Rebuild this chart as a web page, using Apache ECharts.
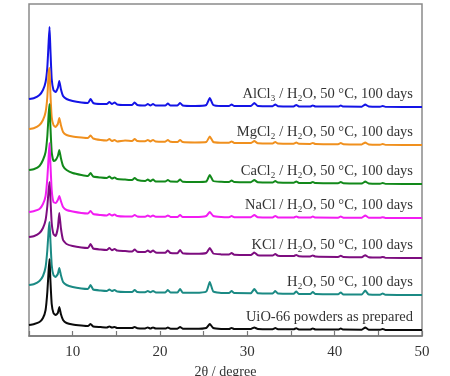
<!DOCTYPE html>
<html>
<head>
<meta charset="utf-8">
<script src="https://cdn.jsdelivr.net/npm/echarts@6/dist/echarts.min.js"></script>
<style>html,body{margin:0;padding:0;background:#fff}#c{width:450px;height:376px}</style>
</head>
<body>
<div id="c"></div>
<script>
// 2θ positions shared by all patterns
var twoTheta = [5.0,5.6,6.2,6.6,6.9,7.1,7.25,7.35,7.45,7.6,7.8,8.05,8.3,8.47,8.65,8.9,9.3,10.0,11.0,11.75,12.05,12.35,13.2,13.9,14.2,14.5,14.8,15.1,16.0,16.8,17.1,17.4,18.3,18.6,18.9,19.2,19.5,20.6,20.9,21.2,22.0,22.3,22.6,24.0,25.3,25.7,26.1,27.0,27.9,28.2,28.5,30.4,30.8,31.2,32.9,33.2,33.5,35.3,35.6,35.9,37.2,37.5,37.8,40.4,40.7,41.0,43.1,43.5,43.9,45.2,45.5,45.8,50.0];

var labels = ['AlCl\u2083 / H\u2082O, 50 \u00B0C, 100 days','MgCl\u2082 / H\u2082O, 50 \u00B0C, 100 days','CaCl\u2082 / H\u2082O, 50 \u00B0C, 100 days','NaCl / H\u2082O, 50 \u00B0C, 100 days','KCl / H\u2082O, 50 \u00B0C, 100 days','H\u2082O, 50 \u00B0C, 100 days','UiO-66 powders as prepared'];
var colors = ['#1414e6','#f0901e','#12891a','#f21cf2','#7d0d7f','#1b8a84','#0a0a0a'];
// vertical stacking offsets (arbitrary intensity units)
var offsets = [229,191,152,118,78,41,6];

var alcl3 = [8,9,12,17,25,40,65,80,58,28,17,15,19,26,18,11,8,6,4.5,4,8,4,3,3,5,3,4.5,2.5,2,2,4.5,2,1.5,3,1.5,3,1.5,1.5,3.5,1.5,1.5,4,1.5,1,2,9,2,1,1,2.5,1,1,4,1,0.8,2.5,0.8,0.6,2,0.6,0.5,1.5,0.5,0.4,1.5,0.4,0.3,2.5,0.5,0.3,1,0.2,0];
var mgcl2 = [16,17,20,25,33,48,72,77,52,28,20,18,21,27,20,13,10,8.5,7.5,7,9.5,6.5,5,4.5,6,4,5,3.5,4.5,4,6,4,3.8,5,3.6,5,3.5,3.3,5,3.2,3,5,3,2.6,3,8.5,3,2.3,2.2,3.5,2.1,2,4,1.8,1.6,3,1.5,1.3,2.5,1.2,1.1,2,1,0.8,2,0.8,0.6,2.5,0.5,0.3,1,0.2,0];
var cacl2 = [14,15,18,24,32,48,70,80,58,32,23,24,28,34,26,18,14,11,9,8,11,7.5,6.5,6,7.5,5.5,6.5,5,4.5,4,6,4,3,4.5,2.8,4.5,2.6,2.5,4,2.4,2.3,4.5,2.2,2,2.5,9,3,2.2,2,3.5,2,1.8,4,1.7,1.5,3,1.4,1.2,2.5,1.1,1,2,0.9,0.7,2,0.7,0.5,2.5,0.5,0.3,1,0.2,0];
var nacl = [6,7,9,14,22,40,62,75,55,28,16,15,18,22,17,11,8,6.5,5,4.5,7,4,3,2.5,4,2.5,3.5,2,1.5,1.5,3,1.5,1.2,2.5,1.2,2.5,1.2,1.2,2.5,1.1,1,3,1,1,2,6,2,1,0.8,2,0.8,0.8,3,0.8,0.6,2,0.6,0.5,1.5,0.5,0.4,1.5,0.4,0.3,1.5,0.3,0.2,2.5,0.3,0.2,0.8,0.1,0];
var kcl = [21,22,25,30,38,52,68,76,60,35,24,22,30,45,30,18,14,12,10.5,10,14,9.5,8.5,8,10,7.7,9,7.4,7,6.5,8.5,6.3,6,7.5,5.8,7.5,5.6,5.2,7.5,5,4.8,8,4.7,4.2,5,10,4.5,3.6,3.4,5,3.2,3,5.5,2.8,2.5,4,2.3,2,3,1.8,1.6,2.6,1.4,1.1,2.3,1,0.8,2.8,0.7,0.4,1.1,0.3,0];
var water = [10,11,14,19,28,45,65,73,55,30,20,18,21,27,20,13,10,8,6.5,6,10,5.5,4.5,4,5.5,4,5,3.5,3,3,5,3,2.8,4,2.7,4,2.6,2.5,5,2.4,2.4,6,2.3,2.2,3.5,13,3.5,2,2,4,1.9,1.8,6,1.7,1.5,4,1.4,1.2,3.5,1.1,1,3,0.9,0.7,2.5,0.6,0.5,4.5,0.5,0.3,1.5,0.2,0];
var uio66 = [5,6,8,12,20,38,60,71,50,26,17,15,17,23,16,10,7,5.5,4.5,4,6,3.5,3,2.5,3.5,2.5,3,2,2,2,3,1.8,1.6,2.5,1.5,2.5,1.5,1.4,2.5,1.3,1.3,3,1.3,1.2,2,6,2,1.1,1,2,1,1,2.5,1,0.8,2,0.8,0.7,1.8,0.6,0.5,1.5,0.5,0.4,1.5,0.4,0.3,2.5,0.3,0.2,1,0.1,0];

var patterns = [alcl3, mgcl2, cacl2, nacl, kcl, water, uio66];
var xTicks = [10,20,30,40,50];

var serif = "'Liberation Serif','Times New Roman',serif";
var chart = echarts.init(document.getElementById('c'), null, {renderer:'canvas'});

var series = patterns.map(function(p, i){
  return {
    type: 'line',
    name: labels[i],
    data: p.map(function(v, j){ return [twoTheta[j], v + offsets[i]]; }),
    symbol: 'none',
    smooth: 0.15,
    lineStyle: {color: colors[i], width: 2},
    itemStyle: {color: colors[i]},
    animation: false,
    endLabel: {
      show: true,
      formatter: labels[i],
      fontFamily: serif, fontSize: 14.5, color: '#333',
      align: 'right', offset: [-17, -13]
    },
    labelLayout: {hideOverlap: false}
  };
});

chart.setOption({
  animation: false,
  backgroundColor: '#fff',
  grid: {left: 29, right: 28, top: 4, bottom: 40, outerBoundsMode: 'none', containLabel: false, show: true, borderColor: '#8a8a8a', borderWidth: 1.5, backgroundColor: 'transparent'},
  xAxis: {
    type: 'value', min: 5, max: 50, interval: 5,
    name: '2\u03B8 / degree', nameLocation: 'middle', nameGap: 20,
    nameTextStyle: {fontFamily: serif, fontSize: 14, color: '#333'},
    axisLine: {show: true, lineStyle: {color: '#777', width: 1.5}},
    axisTick: {show: true, inside: true, length: 5, lineStyle: {color: '#777', width: 1.2}},
    axisLabel: {
      margin: 9, fontFamily: serif, fontSize: 15, color: '#333',
      formatter: function(v){ return xTicks.indexOf(v) >= 0 ? String(v) : ''; }
    },
    splitLine: {show: false}
  },
  yAxis: {
    type: 'value', min: 0, max: 332, show: false
  },
  series: series
});
</script>
</body>
</html>
